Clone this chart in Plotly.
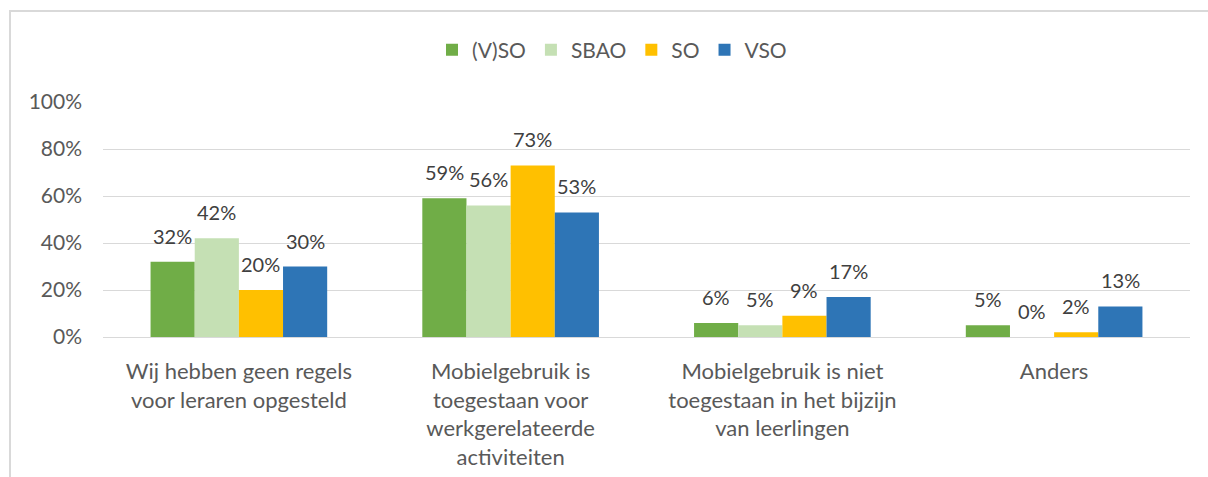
import plotly.graph_objects as go

categories = [
    "Wij hebben geen regels<br>voor leraren opgesteld",
    "Mobielgebruik is<br>toegestaan voor<br>werkgerelateerde<br>activiteiten",
    "Mobielgebruik is niet<br>toegestaan in het bijzijn<br>van leerlingen",
    "Anders",
]
series_names = ["(V)SO", "SBAO", "SO", "VSO"]
vso_all = [0.32, 0.59, 0.06, 0.05]
sbao = [0.42, 0.56, 0.05, 0.00]
so = [0.20, 0.73, 0.09, 0.02]
vso = [0.30, 0.53, 0.17, 0.13]
y_ticks = [0, 0.2, 0.4, 0.6, 0.8, 1.0]

colors = ["#70AD47", "#C5E0B4", "#FFC000", "#2E75B6"]
font_family = "Lato, 'Open Sans', sans-serif"
text_color = "#595959"
label_color = "#404040"
grid_color = "#D9D9D9"

W, H = 1208, 477
L, R, T, B = 103, 18, 102, 140
pw, ph = W - L - R, H - T - B

bargap = 0.35
n_series = len(series_names)
group_px = pw / len(categories)
bar_px = group_px * (1 - bargap) / n_series

fig = go.Figure()
all_series = [vso_all, sbao, so, vso]
for i, (name, vals, col) in enumerate(zip(series_names, all_series, colors)):
    fig.add_trace(go.Bar(
        name=name,
        x=categories,
        y=vals,
        marker=dict(color=col, line=dict(width=0)),
    ))
    # value labels above each bar, offset to the bar's slot within the group
    shift = (i - (n_series - 1) / 2) * bar_px
    for cat, v in zip(categories, vals):
        fig.add_annotation(
            x=cat, y=v, xref="x", yref="y",
            text=f"{round(v * 100)}%",
            showarrow=False,
            xanchor="center", yanchor="bottom",
            xshift=shift, yshift=12,
            font=dict(family=font_family, size=20, color=label_color),
        )

# light frame around the chart area
fig.add_shape(
    type="rect", xref="paper", yref="paper",
    x0=(10 - L) / pw, x1=1.2,
    y0=-1.0, y1=(H - B - 11) / ph,
    line=dict(color=grid_color, width=2),
    layer="below",
)

fig.update_layout(
    width=W, height=H,
    margin=dict(l=L, r=R, t=T, b=B, autoexpand=False),
    barmode="group",
    bargap=bargap,
    bargroupgap=0,
    plot_bgcolor="white",
    paper_bgcolor="white",
    font=dict(family=font_family, size=21, color=text_color),
    legend=dict(
        orientation="h",
        x=(612 - L) / pw, xanchor="center",
        y=(H - B - 50) / ph, yanchor="middle",
        font=dict(size=21, color=text_color),
        traceorder="normal",
    ),
    xaxis=dict(
        showgrid=False,
        showline=False,
        ticks="",
        tickangle=0,
        automargin=False,
        ticklabelstandoff=19,
        tickfont=dict(size=22, color=text_color),
    ),
    yaxis=dict(
        range=[0, 1.0],
        tickvals=y_ticks,
        tickformat=".0%",
        showgrid=True,
        gridcolor=grid_color,
        gridwidth=1,
        zeroline=True,
        zerolinecolor=grid_color,
        zerolinewidth=1,
        showline=False,
        ticks="",
        automargin=False,
        ticklabelstandoff=20,
        tickfont=dict(size=21, color=text_color),
    ),
    showlegend=True,
)

fig.write_html("out.html")
